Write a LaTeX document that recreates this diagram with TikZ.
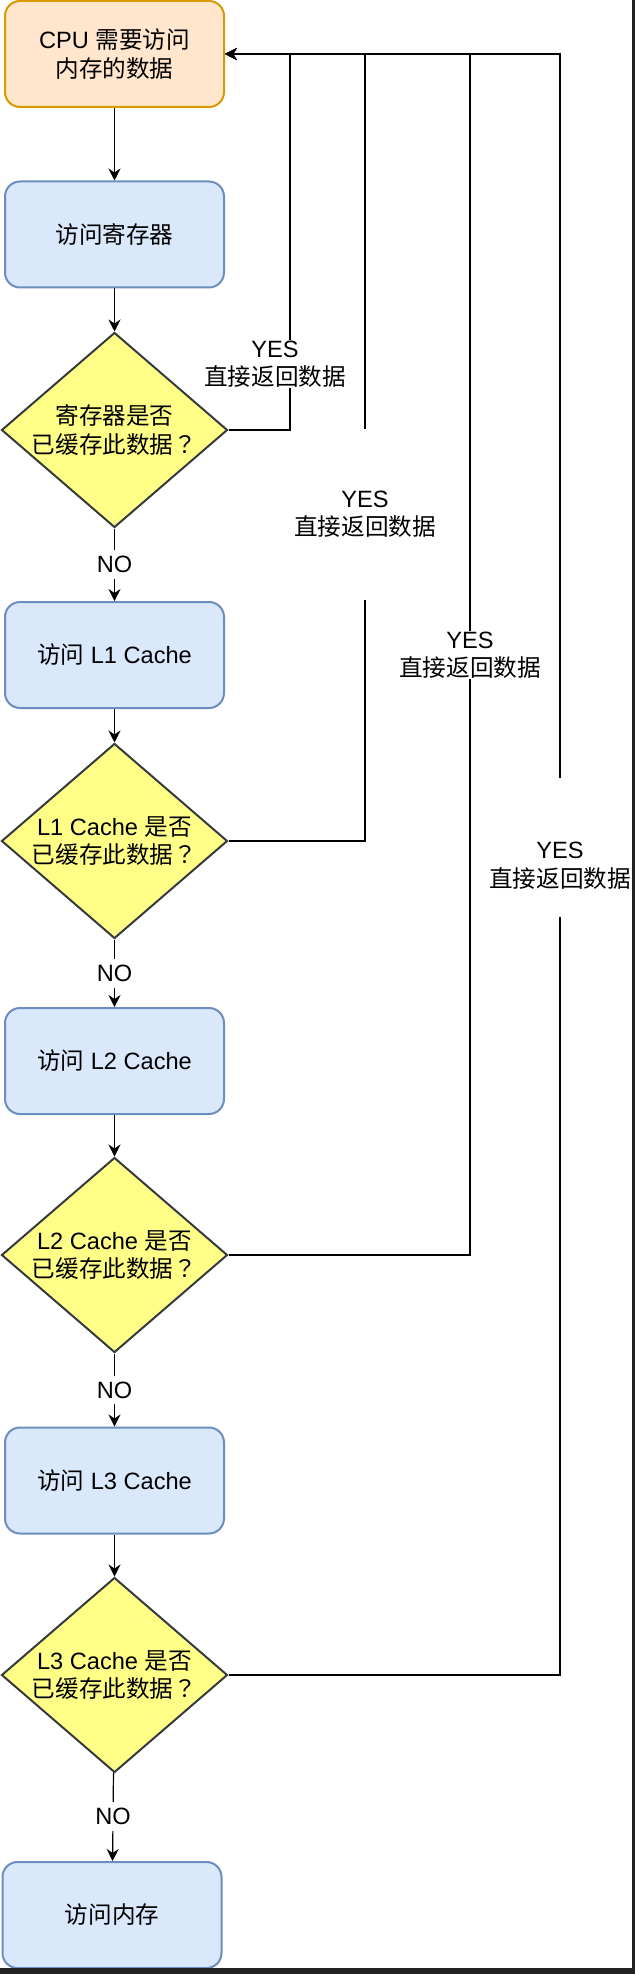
\documentclass[tikz,border=0pt]{standalone}
\usepackage{fontspec}
\setmainfont{Liberation Sans}
\newfontfamily\cjk{Noto Sans CJK SC}
\newfontfamily\cjkpunct{Noto Sans CJK TC}
\newcommand{\zh}[1]{{\cjk #1}}
\newcommand{\qmark}{{\cjkpunct ？}}
\usetikzlibrary{shapes.geometric,arrows.meta}
\definecolor{startfill}{HTML}{FFE6CC}
\definecolor{startline}{HTML}{D79B00}
\definecolor{stepfill}{HTML}{DAE8FC}
\definecolor{stepline}{HTML}{6C8EBF}
\definecolor{askfill}{HTML}{FFFF88}
\definecolor{askline}{HTML}{36393D}
\definecolor{darkframe}{HTML}{222222}
\tikzset{
  stepbox/.style={draw=stepline,fill=stepfill,line width=1pt,rounded corners=7.5pt,
    minimum width=109.5pt,minimum height=53pt,align=center,inner sep=0pt},
  startbox/.style={stepbox,draw=startline,fill=startfill},
  askbox/.style={diamond,draw=askline,fill=askfill,line width=1pt,
    minimum width=113pt,minimum height=97.5pt,inner sep=-12pt,align=center},
  flow/.style={line width=0.6pt,-{Stealth[length=6pt,width=6pt,inset=2pt]}},
  nolabel/.style={fill=white,inner xsep=1pt,inner ysep=3pt},
  yeslabel/.style={fill=white,inner xsep=1pt,inner ysep=0.5pt,align=center},
}
\begin{document}
\begin{tikzpicture}[x=0.5pt,y=-0.5pt,font=\fontsize{11.8pt}{14.25pt}\selectfont]
  \useasboundingbox (0,0) rectangle (635,1974);

  \node[startbox] (cpu) at (114.5,54) {CPU \zh{需要访问}\\\zh{内存的数据}};
  \node[stepbox] (reg) at (114.5,234.5) {\zh{访问寄存器}};
  \node[askbox] (askreg) at (114.5,430) {\zh{寄存器是否}\\\zh{已缓存此数据}\qmark};
  \node[stepbox] (l1) at (114.5,655) {\zh{访问} L1 Cache};
  \node[askbox] (askl1) at (114.5,841) {L1 Cache \zh{是否}\\\zh{已缓存此数据}\qmark};
  \node[stepbox] (l2) at (114.5,1061) {\zh{访问} L2 Cache};
  \node[askbox] (askl2) at (114.5,1255) {L2 Cache \zh{是否}\\\zh{已缓存此数据}\qmark};
  \node[stepbox] (l3) at (114.5,1480.5) {\zh{访问} L3 Cache};
  \node[askbox] (askl3) at (114.5,1675) {L3 Cache \zh{是否}\\\zh{已缓存此数据}\qmark};
  \node[stepbox] (mem) at (112,1915) {\zh{访问内存}};

  \foreach \a/\b in {cpu/reg,reg/askreg,l1/askl1,l2/askl2,l3/askl3}
    \draw[flow] (\a) -- (\b);
  \foreach \a/\b in {askreg/l1,askl1/l2,askl2/l3,askl3/mem}
    \draw[flow] (\a) -- node[nolabel] (no\b) {NO} (\b);

  \coordinate (lane1) at (290,54);
  \coordinate (lane2) at (365,54);
  \coordinate (lane3) at (470,54);
  \coordinate (lane4) at (560,54);
  \foreach \q/\l in {askreg/lane1,askl1/lane2,askl2/lane3,askl3/lane4}
    \draw[flow] (\q.east) -| (\l) -- (cpu.east);

  \node[yeslabel] (yes1) at (275,364) {YES\\\zh{直接返回数据}};
  \node[yeslabel,minimum height=85.5pt] (yes2) at (365,514) {YES\\\zh{直接返回数据}};
  \node[yeslabel] (yes3) at (470,655) {YES\\\zh{直接返回数据}};
  \node[yeslabel,minimum height=69.5pt] (yes4) at (560,847.5) {\mbox{}\\[12pt]YES\\\zh{直接返回数据}};

  \fill[darkframe] (632,0) rectangle (635,1974);
  \fill[darkframe] (0,1968) rectangle (635,1974);
\end{tikzpicture}
\end{document}
